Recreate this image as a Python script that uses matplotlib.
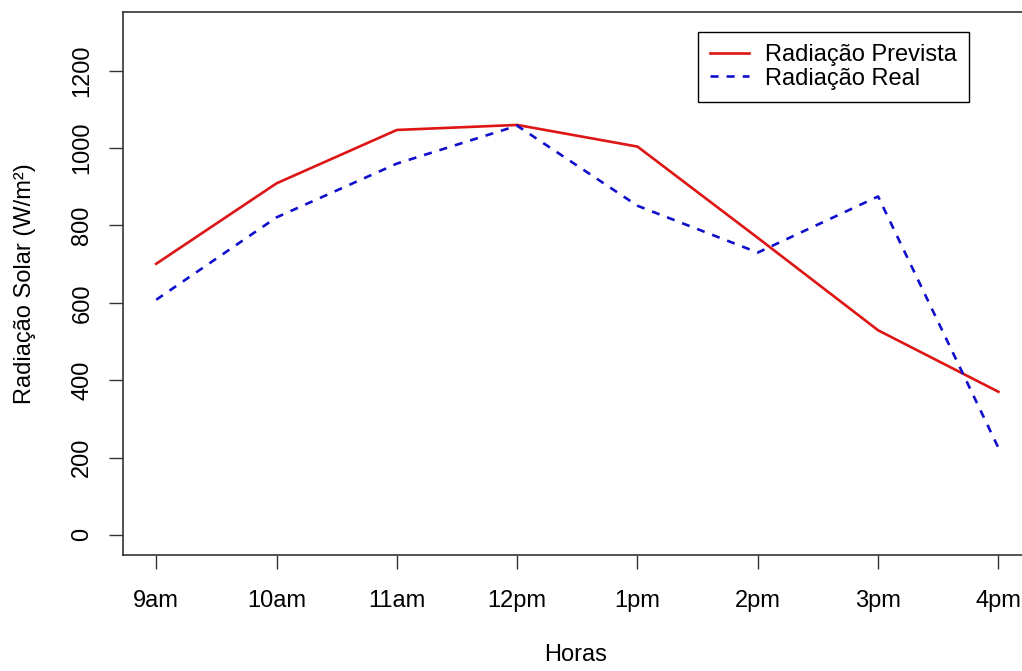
import matplotlib
matplotlib.use('Agg')
import matplotlib.pyplot as plt

plt.rcParams['font.family'] = ['Liberation Sans', 'DejaVu Sans']
plt.rcParams['lines.scale_dashes'] = False

# data
horas = ['9am', '10am', '11am', '12pm', '1pm', '2pm', '3pm', '4pm']
prevista = [701, 909, 1047, 1060, 1004, 768, 529, 370]
real = [608, 821, 960, 1058, 851, 730, 875, 225]
yticks = [0, 200, 400, 600, 800, 1000, 1200]

x = list(range(1, len(horas) + 1))

fig = plt.figure(figsize=(10.22, 6.71), dpi=100)
# axes runs off the right side like the original
ax = fig.add_axes([0.1199, 0.1729, 0.8900, 0.8092])

ax.plot(x, prevista, color='#DD1515', lw=1.9, label='Radiação Prevista')
ax.plot(x, real, color='#1010CC', lw=1.9, dashes=(5.8, 5.8), label='Radiação Real')

# R style 4% padding
ax.set_xlim(1 - 0.28, 8 + 0.28)
ax.set_ylim(-52, 1352)

ax.set_xticks(x)
ax.set_xticklabels(horas, fontsize=17)
ax.set_yticks(yticks)
ax.set_yticklabels([str(v) for v in yticks], fontsize=17, rotation=90, va='center')
ax.tick_params(axis='both', length=10, width=1, color='#333333')
ax.tick_params(axis='x', pad=15)
ax.tick_params(axis='y', pad=11)

for s in ax.spines.values():
    s.set_color('#333333')
    s.set_linewidth(1.2)

fig.text(576 / 1022, 1 - 655 / 671, 'Horas', fontsize=17, ha='center', va='center')
fig.text(25 / 1022, 1 - 283.5 / 671, 'Radiação Solar (W/m²)', fontsize=17,
         ha='center', va='center', rotation=90)

leg = ax.legend(loc='upper left', bbox_to_anchor=(698 / 1022, 1 - 32 / 671),
                bbox_transform=fig.transFigure, fontsize=17, frameon=True,
                fancybox=False, edgecolor='black', framealpha=1,
                labelspacing=0.08, handlelength=1.65, handletextpad=0.7,
                borderpad=0.5, borderaxespad=0)
leg.get_frame().set_linewidth(1.0)

fig.savefig('out.png', dpi=100)
